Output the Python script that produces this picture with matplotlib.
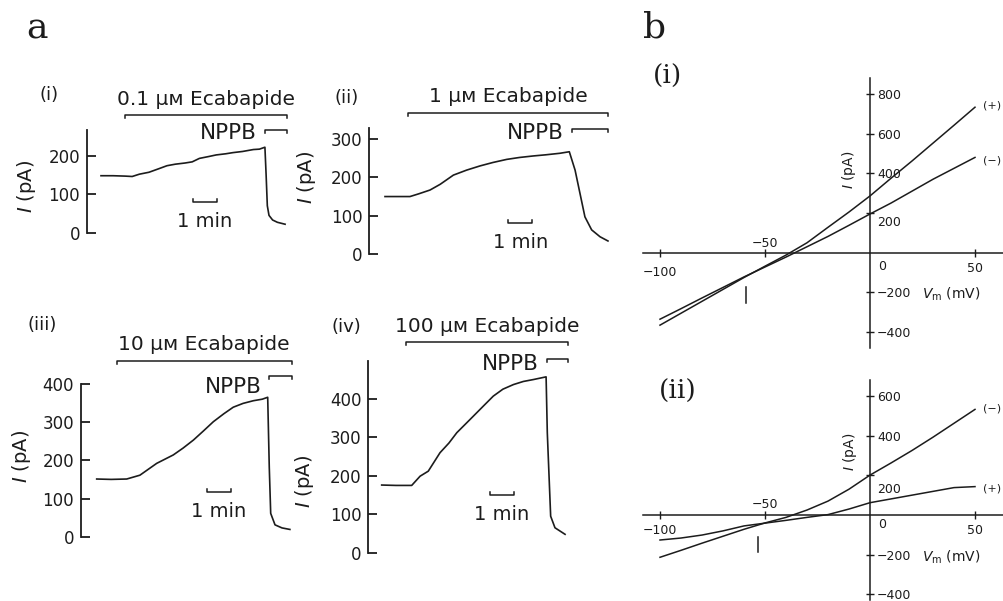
import matplotlib
matplotlib.use("Agg")
import matplotlib.pyplot as plt

plt.rcParams['font.family'] = ['DejaVu Sans']
plt.rcParams['mathtext.fontset'] = 'dejavusans'

# ---------------- data: panel a (time courses, minutes / pA) ----------------
t_i = [0, 0.5, 1.0, 1.3, 1.6, 2.0, 2.4, 2.75, 3.1, 3.5, 3.8, 4.1, 4.5, 4.8, 5.2,
       5.5, 5.9, 6.35, 6.6, 6.83, 6.88, 6.93, 7.0, 7.15, 7.35, 7.67]
I_i = [148, 148, 147, 146, 152, 157, 166, 174, 178, 181, 184, 193, 198, 202, 205,
       208, 211, 216, 217, 222, 150, 70, 45, 33, 27, 22]

t_ii = [0, 0.5, 1.04, 1.4, 1.875, 2.3, 2.85, 3.4, 3.96, 4.5, 5.07, 5.6, 6.18, 6.7,
        7.29, 7.68, 7.92, 8.125, 8.33, 8.61, 8.96, 9.29]
I_ii = [150, 150, 150, 157, 167, 182, 206, 219, 230, 239, 247, 252, 256, 259,
        263, 267, 219, 158, 97, 63, 45, 34]

t_iii = [0, 0.6, 1.25, 1.8, 2.5, 3.19, 3.6, 4.03, 4.45, 4.86, 5.3, 5.69, 6.1, 6.53,
         6.9, 7.125, 7.19, 7.25, 7.43, 7.72, 8.05]
I_iii = [151, 150, 151, 161, 192, 214, 232, 253, 277, 301, 322, 339, 349, 356,
         360, 365, 183, 61, 31, 23, 19]

t_iv = [0, 0.6, 1.25, 1.6, 1.94, 2.43, 2.8, 3.13, 3.5, 3.82, 4.25, 4.65, 5.05, 5.49,
        5.9, 6.32, 6.85, 6.90, 7.04, 7.22, 7.64]
I_iv = [176, 175, 175, 199, 212, 260, 285, 312, 335, 355, 382, 407, 425, 437,
        445, 450, 457, 312, 95, 65, 48]

conc_labels = ['0.1 μᴍ Ecabapide', '1 μᴍ Ecabapide', '10 μᴍ Ecabapide', '100 μᴍ Ecabapide']
panel_a_tags = ['(i)', '(ii)', '(iii)', '(iv)']
ecab_on = [1.0, 0.97, 0.83, 1.01]
ecab_off = [7.75, 9.3, 8.13, 7.78]
nppb_on = [6.83, 7.78, 7.19, 6.875]
yticks_a = [[0, 100, 200], [0, 100, 200, 300], [0, 100, 200, 300, 400], [0, 100, 200, 300, 400]]

# ---------------- data: panel b (I-V relations, mV / pA) ----------------
V = [-100, -90, -80, -70, -60, -50, -40, -30, -20, -10, 0, 10, 20, 30, 40, 50]
bi_plus = [-365, -305, -245, -185, -125, -68, -12, 50, 128, 205, 286, 375, 462, 552, 642, 733]
bi_minus = [-335, -282, -228, -175, -122, -72, -22, 30, 82, 138, 195, 250, 310, 370, 425, 480]
bii_plus = [-126, -116, -101, -80, -55, -41, -27, -12, 2, 30, 62, 81, 100, 119, 138, 143]
bii_minus = [-213, -178, -142, -107, -72, -40, -12, 25, 70, 130, 201, 262, 325, 392, 462, 532]
xticks_b = [-100, -50, 50]
yticks_bi = [-400, -200, 200, 400, 600, 800]
yticks_bii = [-400, -200, 200, 400, 600]

# ---------------- figure ----------------
W, H = 1004, 601
fig = plt.figure(figsize=(W / 100, H / 100), dpi=100)
INK = '#1c1c1c'
PX = 0.72  # points per pixel


def F(x, y):
    return x / W, 1 - y / H


def px_axes(L, T, R, B, x0, sx, y0, sy):
    ax = fig.add_axes([L / W, 1 - B / H, (R - L) / W, (B - T) / H])
    ax.set_xlim((L - x0) / sx, (R - x0) / sx)
    ax.set_ylim((y0 - B) / sy, (y0 - T) / sy)
    ax.patch.set_visible(False)
    return ax


# panel letters
fig.text(*F(37.5, 38.3), 'a', family='DejaVu Serif', fontsize=26, ha='center', va='baseline', color=INK)
fig.text(*F(655, 38), 'b', family='DejaVu Serif', fontsize=26, ha='center', va='baseline', color=INK)

# ---- panel a layout (pixels) ----
a_geom = [
    dict(L=87, T=85, R=300, B=240, x0=101, sy=0.385, y0=232.7, top=267, ey=305.7, ny=266.8, st=3.83, sc=79.7,
         tag=(49, 95), ylab=(27, 186), nppb_dy=-3),
    dict(L=369.3, T=85, R=615, B=262, x0=385, sy=0.383, y0=254, top=329, ey=368.4, ny=325.6, st=5.14, sc=80,
         tag=(346.7, 98), ylab=(306, 177.5), nppb_dy=-3.4),
    dict(L=81, T=330, R=300, B=545, x0=96.7, sy=0.382, y0=536.7, top=400, ey=460, ny=420.7, st=4.6, sc=116,
         tag=(41.7, 325), ylab=(21.7, 456), nppb_dy=-11),
    dict(L=368.3, T=320, R=615, B=560, x0=381.7, sy=0.385, y0=552.8, top=497, ey=547, ny=503, st=4.5, sc=150,
         tag=(346.7, 326.7), ylab=(305, 481.5), nppb_dy=-4.7),
]
traces = [(t_i, I_i), (t_ii, I_ii), (t_iii, I_iii), (t_iv, I_iv)]
SX = 24.0  # px per minute

for k, g in enumerate(a_geom):
    ax = px_axes(g['L'], g['T'], g['R'], g['B'], g['x0'], SX, g['y0'], g['sy'])
    t, I = traces[k]
    ax.plot(t, I, color=INK, lw=1.2, clip_on=False, solid_joinstyle='round')
    for s in ['top', 'right', 'bottom']:
        ax.spines[s].set_visible(False)
    ax.spines['left'].set_bounds(0, g['top'])
    ax.spines['left'].set_linewidth(1.3)
    ax.spines['left'].set_color(INK)
    ax.set_xticks([])
    ax.set_yticks(yticks_a[k])
    ax.tick_params(axis='y', direction='in', length=6.5, width=1.3, pad=5, labelsize=12, colors=INK)
    for lab in ax.get_yticklabels():
        lab.set_verticalalignment('center_baseline')
    d = 3 / g['sy']
    # Ecabapide bar
    ax.plot([ecab_on[k], ecab_on[k], ecab_off[k], ecab_off[k]], [g['ey'] - d, g['ey'], g['ey'], g['ey'] - d],
            color=INK, lw=1.1, clip_on=False)
    ax.annotate(conc_labels[k], xy=((ecab_on[k] + ecab_off[k]) / 2, g['ey']), xytext=(0, 16 * PX),
                textcoords='offset points', ha='center', va='center', fontsize=14.5, color=INK,
                annotation_clip=False)
    # NPPB bar
    ax.plot([nppb_on[k], nppb_on[k], ecab_off[k], ecab_off[k]], [g['ny'] - d, g['ny'], g['ny'], g['ny'] - d],
            color=INK, lw=1.1, clip_on=False)
    ax.annotate('NPPB', xy=(nppb_on[k], g['ny']), xytext=(-8 * PX, g['nppb_dy'] * PX),
                textcoords='offset points', ha='right', va='center', fontsize=15.5, color=INK,
                annotation_clip=False)
    # 1 min scale bar
    st = g['st']
    ax.plot([st, st, st + 1, st + 1], [g['sc'] + d, g['sc'], g['sc'], g['sc'] + d], color=INK, lw=1.1,
            clip_on=False)
    ax.annotate('1 min', xy=(st + 0.5, g['sc']), xytext=(0, -19 * PX), textcoords='offset points',
                ha='center', va='center', fontsize=14, color=INK, annotation_clip=False)
    fig.text(*F(*g['tag']), panel_a_tags[k], ha='center', va='center', fontsize=13, color=INK)
    fig.text(*F(*g['ylab']), r'$I$ (pA)', rotation=90, ha='center', va='center', fontsize=14, color=INK)

# ---- panel b ----
b_geom = [
    dict(T=78.3, B=348.3, y0=252.7, tag=(668, 76), tagtxt='(i)', ylab=(849.3, 170), yt=yticks_bi,
         lab200=-8, xoff={-100: -18, -50: 11, 50: -14}, zero_off=-12, mark=(-59.2, -171, -252),
         curves=[(bi_plus, '(+)', 2), (bi_minus, '(−)', -2.6)]),
    dict(T=380, B=600, y0=515, tag=(678, 391.7), tagtxt='(ii)', ylab=(850, 451.7), yt=yticks_bii,
         lab200=-13, xoff={-100: -14.3, -50: 11.7, 50: -14.3}, zero_off=-8, mark=(-53.2, -109, -185),
         curves=[(bii_minus, '(−)', 1), (bii_plus, '(+)', -1.7)]),
]
for g in b_geom:
    ax = px_axes(643, g['T'], 1004, g['B'], 870, 2.1, g['y0'], 0.1985)
    for s in ['top', 'right']:
        ax.spines[s].set_visible(False)
    ax.spines['left'].set_position(('data', 0))
    ax.spines['bottom'].set_position(('data', 0))
    for s in ['left', 'bottom']:
        ax.spines[s].set_linewidth(1.1)
        ax.spines[s].set_color(INK)
    ax.set_xticks(xticks_b)
    ax.set_yticks(g['yt'])
    ax.tick_params(direction='inout', length=5.5, width=1.0, colors=INK, labelbottom=False, labelleft=False)
    for vals, lab, dy in g['curves']:
        ax.plot(V, vals, color=INK, lw=1.1, clip_on=False)
        ax.annotate(lab, xy=(V[-1], vals[-1]), xytext=(16.7 * PX, dy * PX), textcoords='offset points',
                    ha='center', va='center', fontsize=8, color=INK, annotation_clip=False)
    mv, m0, m1 = g['mark']
    ax.plot([mv, mv], [m0, m1], color=INK, lw=1.1)
    for xv in xticks_b:
        ax.annotate(str(xv).replace('-', '−'), xy=(xv, 0), xytext=(0, g['xoff'][xv] * PX),
                    textcoords='offset points', ha='center', va='center_baseline', fontsize=9, color=INK)
    ax.annotate('0', xy=(0, 0), xytext=(12 * PX, g['zero_off'] * PX), textcoords='offset points',
                ha='center', va='center_baseline', fontsize=9, color=INK)
    for yv in g['yt']:
        dy = g['lab200'] if yv == 200 else 0
        ax.annotate(str(yv).replace('-', '−'), xy=(0, yv), xytext=(7 * PX, dy * PX),
                    textcoords='offset points', ha='left', va='center_baseline', fontsize=9, color=INK)
    ax.annotate(r'$V_\mathrm{m}$ (mV)', xy=(0, -200), xytext=(51.7 * PX, 0), textcoords='offset points',
                ha='left', va='center_baseline', fontsize=10, color=INK)
    fig.text(*F(*g['tag']), g['tagtxt'], family='DejaVu Serif', fontsize=19, ha='center', va='center',
             color=INK)
    fig.text(*F(*g['ylab']), r'$I$ (pA)', rotation=90, ha='center', va='center', fontsize=10, color=INK)

fig.savefig('out.png', dpi=100, facecolor='white')
